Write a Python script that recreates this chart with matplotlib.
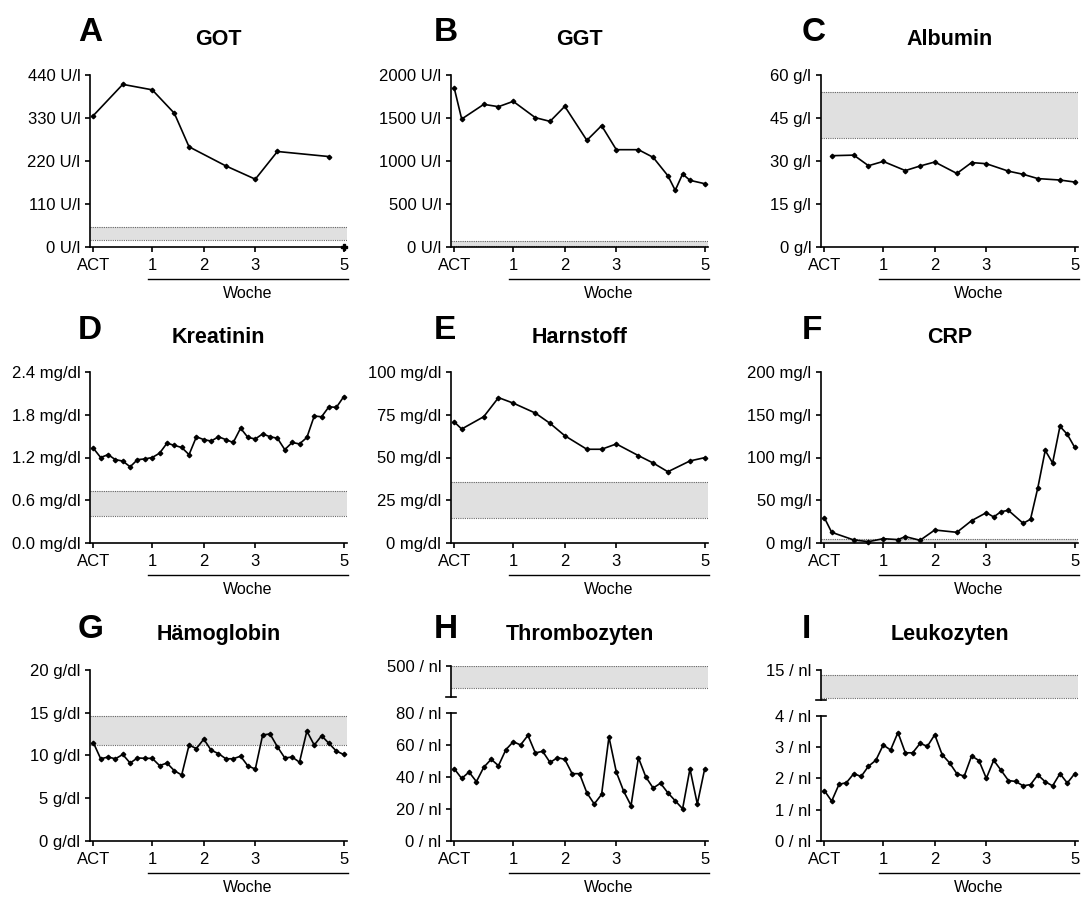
import matplotlib
matplotlib.use("Agg")
import matplotlib.pyplot as plt
import numpy as np
from matplotlib.lines import Line2D
from matplotlib.transforms import ScaledTranslation

plt.rcParams["font.family"] = ["Liberation Sans", "DejaVu Sans"]

# x axis: days since ACT, ticks labelled in weeks
week_pos = [0, 8, 15, 22, 34]
week_labels = ["ACT", "1", "2", "3", "5"]
daily = list(range(35))

got_days = [0, 4, 8, 11, 13, 18, 22, 25, 32]
got_vals = [336, 416, 402, 342, 256, 207, 173, 244, 231]
got_last_day = [34]
got_last_val = [0]

ggt_days = [0, 1, 4, 6, 8, 11, 13, 15, 18, 20, 22, 25, 27, 29, 30, 31, 32, 34]
ggt_vals = [1844, 1487, 1658, 1631, 1693, 1503, 1460, 1635, 1239, 1410, 1130, 1130,
            1041, 827, 656, 847, 773, 734]

alb_days = [1, 4, 6, 8, 11, 13, 15, 18, 20, 22, 25, 27, 29, 32, 34]
alb_vals = [31.8, 32.0, 28.3, 29.8, 26.6, 28.2, 29.6, 25.6, 29.4, 29.0, 26.4, 25.3,
            23.8, 23.3, 22.6]

krea_vals = [1.33, 1.20, 1.24, 1.17, 1.15, 1.07, 1.17, 1.18, 1.20, 1.26, 1.40, 1.37,
             1.34, 1.24, 1.49, 1.45, 1.43, 1.49, 1.45, 1.41, 1.61, 1.48, 1.46, 1.53,
             1.49, 1.47, 1.31, 1.41, 1.39, 1.48, 1.78, 1.77, 1.91, 1.90, 2.05]

harn_days = [0, 1, 4, 6, 8, 11, 13, 15, 18, 20, 22, 25, 27, 29, 32, 34]
harn_vals = [70.7, 66.6, 73.8, 84.9, 81.7, 75.9, 69.9, 62.7, 54.8, 54.8, 57.9, 51.1,
             46.8, 41.7, 48.0, 49.9]

crp_days = [0, 1, 4, 6, 8, 10, 11, 13, 15, 18, 20, 22, 23, 24, 25, 27, 28, 29, 30,
            31, 32, 33, 34]
crp_vals = [29.9, 12.8, 3.9, 1.9, 5.4, 4.3, 7.8, 3.5, 15.5, 12.8, 26.4, 35.7, 30.7,
            36.9, 38.4, 23.3, 28.0, 64.9, 108.3, 93.6, 136.3, 127.0, 111.8]

hb_vals = [11.5, 9.6, 9.8, 9.6, 10.1, 9.1, 9.7, 9.65, 9.65, 8.8, 9.1, 8.2, 7.7,
           11.2, 10.8, 11.9, 10.6, 10.2, 9.6, 9.6, 9.9, 8.75, 8.4, 12.4, 12.5, 11.0,
           9.7, 9.8, 9.2, 12.85, 11.2, 12.3, 11.4, 10.5, 10.1]

thr_vals = [45, 39, 43, 37, 46, 51, 47, 57, 62, 60, 66, 55, 56, 49, 52, 51, 42, 42,
            30, 23, 29, 65, 43, 31, 22, 52, 40, 33, 36, 30, 25, 20, 45, 23, 45]

leu_vals = [1.61, 1.27, 1.81, 1.86, 2.15, 2.06, 2.39, 2.58, 3.07, 2.91, 3.47, 2.82,
            2.82, 3.12, 3.03, 3.40, 2.76, 2.50, 2.15, 2.07, 2.72, 2.57, 2.00, 2.58,
            2.26, 1.93, 1.90, 1.76, 1.80, 2.11, 1.89, 1.76, 2.15, 1.85, 2.15]

# reference ranges (grey bands)
got_ref = (18, 50)
ggt_ref = (10, 68)
alb_ref = (38, 54)
krea_ref = (0.38, 0.73)
harn_ref = (15, 36)
crp_ref = (0, 5)
hb_ref = (11.2, 14.6)
thr_ref = (150, 500)
leu_ref = (4.6, 13.3)

W, H = 1081, 898
XMIN, XMAX = -0.45, 34.45
WOCHE_START = 7.4
COLS = [90, 451, 821]
AX_W = 257
ROWS = [(75, 246.7), (371.7, 543.3), (670, 840.7)]
LW_AX = 1.2
TICK_FS = 12

fig = plt.figure(figsize=(W / 100, H / 100), dpi=100)


def add_ax(left, top, bottom):
    return fig.add_axes([left / W, 1 - bottom / H, AX_W / W, (bottom - top) / H])


def style(ax, ymax, step, unit, fmt="{:g}"):
    ax.set_xlim(XMIN, XMAX)
    ax.set_ylim(0, ymax)
    ticks = np.arange(0, ymax + step / 2, step)
    ax.set_yticks(ticks)
    ax.set_yticklabels([fmt.format(t) + " " + unit for t in ticks])
    ax.set_xticks(week_pos)
    ax.set_xticklabels(week_labels)
    for s in ("top", "right"):
        ax.spines[s].set_visible(False)
    for s in ("left", "bottom"):
        ax.spines[s].set_linewidth(LW_AX)
    ax.tick_params(axis="y", length=3.8, width=LW_AX, pad=3.2, labelsize=TICK_FS)
    ax.tick_params(axis="x", length=3.5, width=LW_AX, pad=4.5, labelsize=TICK_FS)
    ax.patch.set_visible(False)


def woche(ax):
    tr = ax.get_xaxis_transform() + ScaledTranslation(0, -0.32, fig.dpi_scale_trans)
    ax.add_line(Line2D([WOCHE_START, XMAX + 0.2], [0, 0], transform=tr,
                       color="black", lw=1.0, clip_on=False))
    tr2 = ax.get_xaxis_transform() + ScaledTranslation(0, -0.465, fig.dpi_scale_trans)
    ax.text((WOCHE_START + XMAX) / 2, 0, "Woche", transform=tr2, ha="center",
            va="center", fontsize=11.5)


def band(ax, ref):
    lo, hi = ref
    ax.axhspan(lo, hi, facecolor="#e0e0e0", edgecolor="none", zorder=0)
    for v in ref:
        ax.axhline(v, color="#666666", lw=0.8, ls=(0, (1, 1)), zorder=1)


def series(ax, x, y):
    ax.plot(x, y, color="black", lw=1.2, marker="D", ms=2.3, clip_on=False, zorder=3)


def heading(col, row, letter, title):
    base = [41, 339, 638][row]
    tbase = [45, 343, 640][row]
    lx = [78, 434, 802][col]
    fig.text(lx / W, 1 - base / H, letter, fontsize=24, fontweight="bold",
             ha="left", va="baseline")
    fig.text((COLS[col] + AX_W / 2) / W, 1 - tbase / H, title, fontsize=15.5,
             fontweight="bold", ha="center", va="baseline")


def hline_px(x1, x2, y):
    fig.add_artist(Line2D([x1 / W, x2 / W], [1 - y / H, 1 - y / H],
                          transform=fig.transFigure, color="black", lw=LW_AX))


# row 1
ax = add_ax(COLS[0], *ROWS[0])
style(ax, 440, 110, "U/l")
band(ax, got_ref)
series(ax, got_days, got_vals)
ax.plot(got_last_day, got_last_val, "P", color="black", ms=4, clip_on=False, zorder=3)
woche(ax)
heading(0, 0, "A", "GOT")

ax = add_ax(COLS[1], *ROWS[0])
style(ax, 2000, 500, "U/l")
band(ax, ggt_ref)
series(ax, ggt_days, ggt_vals)
woche(ax)
heading(1, 0, "B", "GGT")

ax = add_ax(COLS[2], *ROWS[0])
style(ax, 60, 15, "g/l")
band(ax, alb_ref)
series(ax, alb_days, alb_vals)
woche(ax)
heading(2, 0, "C", "Albumin")

# row 2
ax = add_ax(COLS[0], *ROWS[1])
style(ax, 2.4, 0.6, "mg/dl", "{:.1f}")
band(ax, krea_ref)
series(ax, daily, krea_vals)
woche(ax)
heading(0, 1, "D", "Kreatinin")

ax = add_ax(COLS[1], *ROWS[1])
style(ax, 100, 25, "mg/dl")
band(ax, harn_ref)
series(ax, harn_days, harn_vals)
woche(ax)
heading(1, 1, "E", "Harnstoff")

ax = add_ax(COLS[2], *ROWS[1])
style(ax, 200, 50, "mg/l")
band(ax, crp_ref)
series(ax, crp_days, crp_vals)
woche(ax)
heading(2, 1, "F", "CRP")

# row 3
ax = add_ax(COLS[0], *ROWS[2])
style(ax, 20, 5, "g/dl")
band(ax, hb_ref)
series(ax, daily, hb_vals)
woche(ax)
heading(0, 2, "G", "Hämoglobin")


def broken(col, top_seg, bot_seg, top_lim, top_label, ymax, step, ref, vals):
    x0 = COLS[col]
    axt = add_ax(x0, *top_seg)
    axt.set_xlim(XMIN, XMAX)
    axt.set_ylim(*top_lim)
    axt.set_yticks([top_lim[1]])
    axt.set_yticklabels([top_label])
    axt.set_xticks([])
    for s in ("top", "right", "bottom"):
        axt.spines[s].set_visible(False)
    axt.spines["left"].set_linewidth(LW_AX)
    axt.tick_params(axis="y", length=3.8, width=LW_AX, pad=3.2, labelsize=TICK_FS)
    axt.patch.set_visible(False)
    band(axt, ref)
    hline_px(x0 - 5, x0 + 5, top_seg[1])

    axb = add_ax(x0, *bot_seg)
    style(axb, ymax, step, "/ nl")
    series(axb, daily, vals)
    woche(axb)
    hline_px(x0, x0 + 5, bot_seg[0])


broken(1, (666, 697), (713, 840.7), (0, 500), "500 / nl", 80, 20, thr_ref, thr_vals)
heading(1, 2, "H", "Thrombozyten")

broken(2, (670, 700), (716, 840.7), (4, 15), "15 / nl", 4, 1, leu_ref, leu_vals)
heading(2, 2, "I", "Leukozyten")

fig.savefig("out.png", dpi=100, facecolor="white")
